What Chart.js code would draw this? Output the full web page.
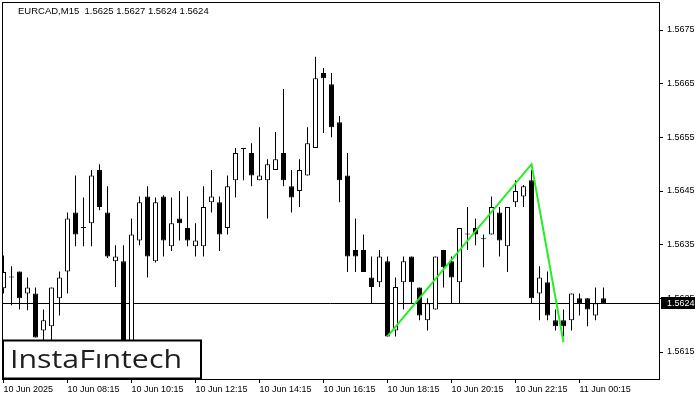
<!DOCTYPE html>
<html><head><meta charset="utf-8">
<script src="https://cdn.jsdelivr.net/npm/chart.js@4.4.1/dist/chart.umd.min.js"></script>
<style>html,body{margin:0;padding:0;background:#fff}canvas{display:block}</style>
</head><body>
<canvas id="c" width="700" height="400"></canvas>
<script>
const times = [
 "10 Jun 06:15","10 Jun 06:30","10 Jun 06:45","10 Jun 07:00","10 Jun 07:15","10 Jun 07:30","10 Jun 07:45","10 Jun 08:00",
 "10 Jun 08:15","10 Jun 08:30","10 Jun 08:45","10 Jun 09:00","10 Jun 09:15","10 Jun 09:30","10 Jun 09:45","10 Jun 10:00",
 "10 Jun 10:15","10 Jun 10:30","10 Jun 10:45","10 Jun 11:00","10 Jun 11:15","10 Jun 11:30","10 Jun 11:45","10 Jun 12:00",
 "10 Jun 12:15","10 Jun 12:30","10 Jun 12:45","10 Jun 13:00","10 Jun 13:15","10 Jun 13:30","10 Jun 13:45","10 Jun 14:00",
 "10 Jun 14:15","10 Jun 14:30","10 Jun 14:45","10 Jun 15:00","10 Jun 15:15","10 Jun 15:30","10 Jun 15:45","10 Jun 16:00",
 "10 Jun 16:15","10 Jun 16:30","10 Jun 16:45","10 Jun 17:00","10 Jun 17:15","10 Jun 17:30","10 Jun 17:45","10 Jun 18:00",
 "10 Jun 18:15","10 Jun 18:30","10 Jun 18:45","10 Jun 19:00","10 Jun 19:15","10 Jun 19:30","10 Jun 19:45","10 Jun 20:00",
 "10 Jun 20:15","10 Jun 20:30","10 Jun 20:45","10 Jun 21:00","10 Jun 21:15","10 Jun 21:30","10 Jun 21:45","10 Jun 22:00",
 "10 Jun 22:15","10 Jun 22:30","10 Jun 22:45","10 Jun 23:00","10 Jun 23:15","10 Jun 23:30","10 Jun 23:45","11 Jun 00:00",
 "11 Jun 00:15","11 Jun 00:30","11 Jun 00:45","11 Jun 01:00"
];
const open = [
 1.56269,1.56289,1.56300,1.56259,1.56259,1.56190,1.56198,1.56250,
 1.56300,1.56410,1.56381,1.56390,1.56489,1.56410,1.56319,1.56319,
 1.56162,1.56358,1.56440,1.56319,1.56440,1.56347,1.56399,1.56381,
 1.56347,1.56347,1.56429,1.56429,1.56381,1.56470,1.56528,1.56521,
 1.56470,1.56470,1.56489,1.56521,1.56459,1.56450,1.56479,1.56530,
 1.56670,1.56649,1.56578,1.56479,1.56340,1.56340,1.56289,1.56280,
 1.56319,1.56190,1.56280,1.56328,1.56270,1.56209,1.56229,1.56340,
 1.56319,1.56280,1.56369,1.56381,1.56360,1.56369,1.56410,1.56347,
 1.56429,1.56440,1.56470,1.56259,1.56280,1.56209,1.56209,1.56209,
 1.56250,1.56250,1.56218,1.56250
];
const high = [
 1.56330,1.56310,1.56300,1.56289,1.56270,1.56229,1.56270,1.56300,
 1.56410,1.56479,1.56438,1.56489,1.56500,1.56459,1.56349,1.56349,
 1.56399,1.56440,1.56459,1.56438,1.56442,1.56438,1.56450,1.56440,
 1.56390,1.56459,1.56489,1.56440,1.56479,1.56530,1.56530,1.56539,
 1.56569,1.56509,1.56560,1.56640,1.56489,1.56509,1.56569,1.56700,
 1.56679,1.56670,1.56590,1.56521,1.56399,1.56369,1.56328,1.56340,
 1.56328,1.56289,1.56328,1.56328,1.56270,1.56250,1.56328,1.56340,
 1.56328,1.56381,1.56420,1.56399,1.56369,1.56440,1.56420,1.56420,
 1.56470,1.56461,1.56489,1.56310,1.56300,1.56229,1.56229,1.56259,
 1.56259,1.56250,1.56270,1.56270
];
const low = [
 1.56259,1.56237,1.56229,1.56228,1.56177,1.56172,1.56162,1.56218,
 1.56259,1.56347,1.56347,1.56347,1.56414,1.56325,1.56271,1.56134,
 1.56144,1.56349,1.56289,1.56317,1.56328,1.56338,1.56358,1.56347,
 1.56328,1.56328,1.56410,1.56338,1.56369,1.56438,1.56470,1.56459,
 1.56470,1.56399,1.56489,1.56459,1.56410,1.56420,1.56479,1.56530,
 1.56558,1.56550,1.56429,1.56299,1.56299,1.56299,1.56240,1.56271,
 1.56179,1.56179,1.56229,1.56240,1.56209,1.56190,1.56229,1.56270,
 1.56240,1.56240,1.56340,1.56349,1.56308,1.56369,1.56328,1.56299,
 1.56420,1.56420,1.56240,1.56209,1.56209,1.56190,1.56179,1.56190,
 1.56218,1.56198,1.56209,1.56240
];
const close = [
 1.56299,1.56290,1.56250,1.56270,1.56177,1.56209,1.56270,1.56289,
 1.56399,1.56369,1.56382,1.56479,1.56420,1.56328,1.56328,1.56153,
 1.56369,1.56429,1.56328,1.56429,1.56358,1.56390,1.56390,1.56358,
 1.56358,1.56420,1.56440,1.56369,1.56459,1.56521,1.56530,1.56479,
 1.56479,1.56500,1.56509,1.56470,1.56438,1.56489,1.56539,1.56660,
 1.56660,1.56569,1.56470,1.56328,1.56328,1.56299,1.56271,1.56328,
 1.56179,1.56271,1.56319,1.56280,1.56218,1.56241,1.56328,1.56308,
 1.56289,1.56381,1.56370,1.56369,1.56361,1.56420,1.56358,1.56420,
 1.56450,1.56459,1.56250,1.56289,1.56218,1.56198,1.56198,1.56259,
 1.56240,1.56229,1.56241,1.56240
];
const tickLabels = ["10 Jun 2025","10 Jun 08:15","10 Jun 10:15","10 Jun 12:15","10 Jun 14:15","10 Jun 16:15","10 Jun 18:15","10 Jun 20:15","10 Jun 22:15","11 Jun 00:15"];
const tickIdx = [0,8,16,24,32,40,48,56,64,72];
const yTicks = [1.5615,1.5625,1.5635,1.5645,1.5655,1.5665,1.5675];
const patternIdx = [48,66,70];
const patternVal = [1.56179,1.56500,1.56168];
const bidPrice = 1.5624;
const headerText = "EURCAD,M15  1.5625 1.5627 1.5624 1.5624";

const FONT = '"Liberation Sans", Arial, sans-serif';
const bull = times.map((t,i)=>close[i] > open[i]);

const overlay = {
  id: 'overlay',
  beforeDatasetsDraw(chart){
    const {ctx, chartArea:a, scales:{y}} = chart;
    const py = Math.floor(y.getPixelForValue(bidPrice)) + 0.5;
    ctx.save();
    ctx.strokeStyle = '#000'; ctx.lineWidth = 1;
    ctx.beginPath(); ctx.moveTo(a.left, py); ctx.lineTo(a.right, py); ctx.stroke();
    ctx.restore();
  },
  afterDraw(chart){
    const {ctx, chartArea:a, scales:{y}} = chart;
    ctx.save();
    ctx.strokeStyle = '#000'; ctx.lineWidth = 1;
    ctx.strokeRect(a.left + 0.5, a.top + 0.5, a.right - a.left, a.bottom - a.top);
    ctx.fillStyle = '#000';
    ctx.font = '9.5px ' + FONT;
    ctx.textBaseline = 'middle'; ctx.textAlign = 'left';
    ctx.fillText(headerText, 18, 11);
    const py = Math.floor(y.getPixelForValue(bidPrice));
    ctx.font = '9px ' + FONT;
    ctx.fillStyle = '#000';
    ctx.fillRect(a.right + 2, py - 6, 34, 12);
    ctx.fillStyle = '#fff';
    ctx.fillText(bidPrice.toFixed(4), a.right + 8, py + 0.5);
    ctx.fillStyle = '#fff';
    ctx.fillRect(3, 340.5, 198, 38);
    ctx.lineWidth = 2; ctx.strokeStyle = '#000';
    ctx.strokeRect(3, 340.5, 198, 38);
    ctx.font = '500 26px "Open Sans", sans-serif';
    ctx.fillStyle = '#1e1e1e';
    ctx.textBaseline = 'alphabetic';
    const txt = 'InstaF\u0131ntech';
    const w = ctx.measureText(txt).width;
    ctx.translate(10, 368);
    ctx.scale(172 / w, 1);
    ctx.fillText(txt, 0, 0);
    ctx.restore();
  }
};

new Chart(document.getElementById('c'), {
  type: 'bar',
  data: {
    datasets: [
      {
        type: 'line',
        data: patternIdx.map((x,k)=>({x:x, y:patternVal[k]})),
        borderColor: '#22ee22', borderWidth: 2, pointRadius: 0, fill: false, tension: 0,
        order: 0
      },
      {
        data: times.map((t,i)=>({x:i, y:[open[i], close[i]]})),
        backgroundColor: bull.map(b => b ? '#fff' : '#000'),
        borderColor: '#000', borderWidth: 1, borderSkipped: false,
        barThickness: 5, minBarLength: 1, grouped: false, inflateAmount: 0,
        order: 1
      },
      {
        data: times.map((t,i)=>({x:i, y:[low[i], high[i]]})),
        backgroundColor: '#000', borderWidth: 0,
        barThickness: 1, grouped: false, inflateAmount: 0,
        order: 2
      }
    ]
  },
  options: {
    responsive: false, animation: false, devicePixelRatio: 1,
    layout: { padding: { left: 2, top: 2, right: 0, bottom: 0 } },
    plugins: { legend: { display: false }, tooltip: { enabled: false } },
    scales: {
      x: {
        type: 'linear', offset: false,
        min: -0.1875, max: 81.9375,
        afterBuildTicks: s => { s.ticks = tickIdx.map(v => ({value: v})); },
        afterFit: s => { s.height = 21; s.paddingLeft = 0; s.paddingRight = 0; },
        grid: { display: true, offset: false, drawOnChartArea: false, drawTicks: true, tickLength: 4, color: '#000', lineWidth: 1 },
        border: { display: false },
        ticks: {
          autoSkip: false, maxRotation: 0, minRotation: 0, align: 'start', padding: 1,
          color: '#000', font: { family: FONT, size: 9 },
          callback: (v) => { const k = tickIdx.indexOf(v); return k >= 0 ? tickLabels[k] : ''; }
        }
      },
      y: {
        position: 'right',
        min: 1.560997, max: 1.568022,
        afterBuildTicks: s => { s.ticks = yTicks.map(v => ({value: v})); },
        afterFit: s => { s.width = 41; s.paddingTop = 0; s.paddingBottom = 0; },
        grid: { display: true, drawOnChartArea: false, drawTicks: true, tickLength: 4, color: '#000', lineWidth: 1 },
        border: { display: false },
        ticks: {
          padding: 4, color: '#000', font: { family: FONT, size: 9 },
          callback: v => Number(v).toFixed(4)
        }
      }
    }
  },
  plugins: [overlay]
});
</script>
</body></html>
